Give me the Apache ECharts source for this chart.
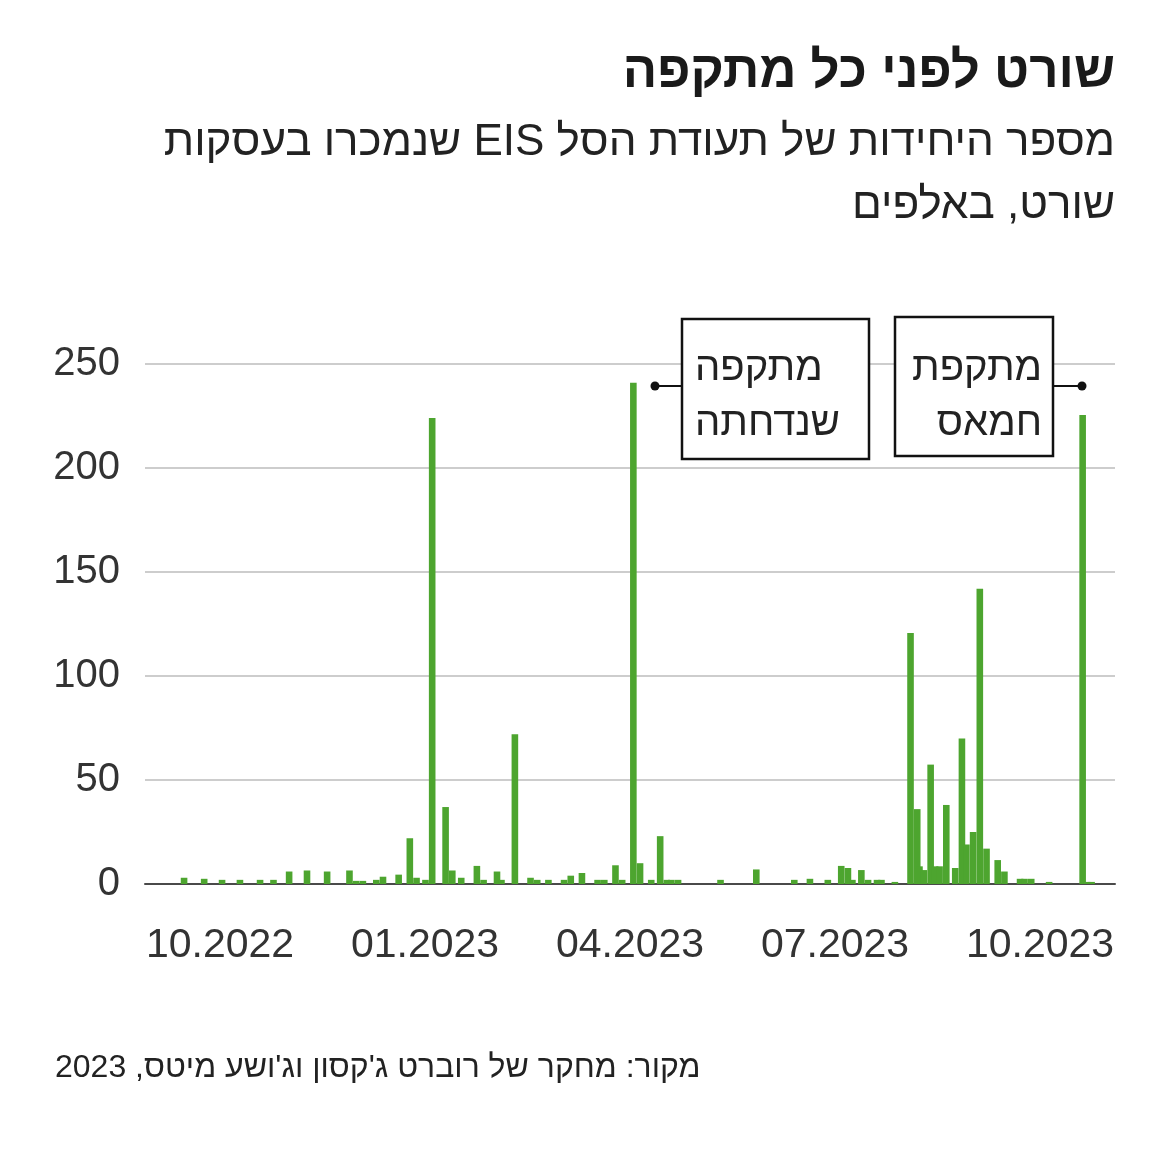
<!DOCTYPE html>
<html>
<head>
<meta charset="utf-8">
<script src="https://cdn.jsdelivr.net/npm/echarts@6/dist/echarts.min.js"></script>
<style>
  html, body { margin: 0; padding: 0; background: #fff; }
  #chart { width: 1170px; height: 1164px; }
</style>
</head>
<body>
<div id="chart" dir="rtl"></div>
<script>
// daily EIS short volume, thousands of units
var tradeDates = [
  '2022-08-26', '2022-09-04', '2022-09-12', '2022-09-20', '2022-09-29', '2022-10-05',
  '2022-10-12', '2022-10-20', '2022-10-29', '2022-11-08', '2022-11-11', '2022-11-14',
  '2022-11-20', '2022-11-23', '2022-11-30', '2022-12-05', '2022-12-08', '2022-12-12',
  '2022-12-15', '2022-12-21', '2022-12-24', '2022-12-28', '2023-01-04', '2023-01-07',
  '2023-01-13', '2023-01-15', '2023-01-21', '2023-01-28', '2023-01-31', '2023-02-05',
  '2023-02-12', '2023-02-15', '2023-02-20', '2023-02-27', '2023-03-02', '2023-03-07',
  '2023-03-10', '2023-03-15', '2023-03-18', '2023-03-23', '2023-03-27', '2023-03-30',
  '2023-04-01', '2023-04-04', '2023-04-23', '2023-05-09', '2023-05-26', '2023-06-02',
  '2023-06-10', '2023-06-16', '2023-06-19', '2023-06-21', '2023-06-25', '2023-06-28',
  '2023-07-02', '2023-07-04', '2023-07-10', '2023-07-17', '2023-07-20', '2023-07-21',
  '2023-07-23', '2023-07-26', '2023-07-28', '2023-07-30', '2023-08-02', '2023-08-06',
  '2023-08-09', '2023-08-11', '2023-08-14', '2023-08-17', '2023-08-20', '2023-08-25',
  '2023-08-28', '2023-09-04', '2023-09-06', '2023-09-09', '2023-09-17', '2023-10-02',
  '2023-10-04', '2023-10-06'
];
var shortUnits = [
  3, 2.5, 2, 2, 2, 2,
  6, 6.5, 6, 6.5, 1.5, 1.5,
  2, 3.5, 4.5, 22, 3, 2,
  224, 37, 6.5, 3, 8.7, 2,
  6, 2, 72, 3, 2, 2,
  2, 4, 5.3, 2, 2, 9,
  2, 241, 10, 2, 23, 2,
  2, 2, 2, 7, 2, 2.5,
  2, 8.7, 7.7, 2, 6.7, 2,
  2, 2, 1, 120.7, 36, 8.5,
  6.7, 57.4, 8.5, 8.5, 38, 7.7,
  70, 19, 25, 142, 17, 11.5,
  6, 2.5, 2.5, 2.5, 1, 225.5,
  1, 1
];
var monthLabels = ['10.2022', '01.2023', '04.2023', '07.2023', '10.2023'];

var titleText = 'שורט לפני כל מתקפה';
var subtitleLine1 = 'מספר היחידות של תעודת הסל EIS שנמכרו בעסקות';
var subtitleLine2 = 'שורט, באלפים';
var sourceText = 'מקור: מחקר של רוברט ג\'קסון וג\'ושע מיטס, 2023';
var noteDelayed = 'מתקפה\nשנדחתה';
var noteHamas = 'מתקפת\nחמאס';

var FONT = "'Liberation Sans', sans-serif";
var GREEN = '#4da52f';

var barData = tradeDates.map(function (d, i) { return [d, shortUnits[i]]; });

var chart = echarts.init(document.getElementById('chart'), null, { renderer: 'canvas' });

chart.setOption({
  animation: false,
  backgroundColor: '#fff',
  textStyle: { fontFamily: FONT },
  title: [
    { text: titleText, right: 55, top: 47, padding: 0,
      textStyle: { fontFamily: FONT, fontSize: 51, fontWeight: 'bold', color: '#1a1a1a' } },
    { text: subtitleLine1, right: 55, top: 121, padding: 0,
      textStyle: { fontFamily: FONT, fontSize: 44, fontWeight: 'normal', color: '#222' } },
    { text: subtitleLine2, right: 55, top: 184, padding: 0,
      textStyle: { fontFamily: FONT, fontSize: 44, fontWeight: 'normal', color: '#222' } },
    { text: sourceText, left: 55, top: 1052, padding: 0,
      textStyle: { fontFamily: FONT, fontSize: 32, fontWeight: 'normal', color: '#222' } }
  ],
  grid: [
    { left: 145, right: 55, top: 364, bottom: 280 },
    { left: 220, right: 130, top: 364, bottom: 280 }
  ],
  xAxis: [
    {
      type: 'time', gridIndex: 0,
      min: '2022-08-10', max: '2023-10-15',
      axisLabel: { show: false },
      axisTick: { show: false },
      splitLine: { show: false },
      axisLine: { lineStyle: { color: '#4a4a4a', width: 2 } }
    },
    {
      type: 'category', gridIndex: 1, data: monthLabels, boundaryGap: false,
      axisLine: { show: false }, axisTick: { show: false },
      axisLabel: { fontFamily: FONT, fontSize: 41, color: '#333', margin: 41, interval: 0 }
    }
  ],
  yAxis: [
    {
      type: 'value', gridIndex: 0, min: 0, max: 250, interval: 50,
      axisLine: { show: false }, axisTick: { show: false },
      axisLabel: { fontFamily: FONT, fontSize: 40, color: '#333', margin: 25 },
      splitLine: { lineStyle: { color: '#bdbdbd', width: 1.5 } }
    },
    { type: 'value', gridIndex: 1, show: false }
  ],
  series: [
    {
      type: 'bar', xAxisIndex: 0, yAxisIndex: 0,
      data: barData,
      barWidth: 6.6,
      itemStyle: { color: GREEN },
      z: 3
    }
  ],
  graphic: [
    { type: 'rect', z: 100, shape: { x: 682, y: 319, width: 187, height: 140 },
      style: { fill: '#fff', stroke: '#111', lineWidth: 2.5 } },
    { type: 'text', z: 101, x: 695, y: 341,
      style: { text: noteDelayed, fill: '#222', font: '40px ' + FONT, lineHeight: 55,
               textAlign: 'left', textVerticalAlign: 'top', align: 'left', verticalAlign: 'top' } },
    { type: 'line', z: 100, shape: { x1: 655, y1: 386, x2: 682, y2: 386 },
      style: { stroke: '#111', lineWidth: 2 } },
    { type: 'circle', z: 101, shape: { cx: 655, cy: 386, r: 4.5 }, style: { fill: '#111' } },

    { type: 'rect', z: 100, shape: { x: 895, y: 317, width: 158, height: 139 },
      style: { fill: '#fff', stroke: '#111', lineWidth: 2.5 } },
    { type: 'text', z: 101, x: 1042, y: 341,
      style: { text: noteHamas, fill: '#222', font: '40px ' + FONT, lineHeight: 55,
               textAlign: 'right', textVerticalAlign: 'top', align: 'right', verticalAlign: 'top' } },
    { type: 'line', z: 100, shape: { x1: 1053, y1: 386, x2: 1082, y2: 386 },
      style: { stroke: '#111', lineWidth: 2 } },
    { type: 'circle', z: 101, shape: { cx: 1082, cy: 386, r: 4.5 }, style: { fill: '#111' } }
  ]
});
</script>
</body>
</html>
